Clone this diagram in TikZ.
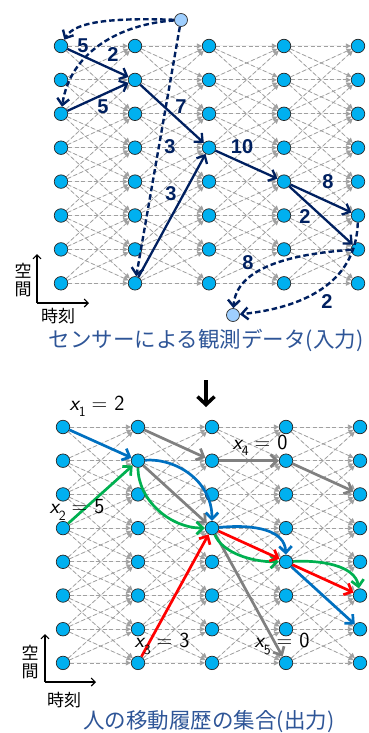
\documentclass[tikz,border=0pt]{standalone}
\usepackage{fontspec}
\usetikzlibrary{arrows.meta}
\newfontfamily\jp{Noto Sans CJK JP}
\newfontfamily\lab{Liberation Sans}
\definecolor{nodec}{HTML}{00B0F0}
\definecolor{lightc}{HTML}{9FCFFF}
\definecolor{navyc}{HTML}{002060}
\definecolor{gridc}{HTML}{A0A0A0}
\definecolor{capc}{HTML}{2E5597}
\definecolor{bluec}{HTML}{0070C0}
\definecolor{greenc}{HTML}{00B050}
\definecolor{redc}{HTML}{FF0000}
\definecolor{grayc}{HTML}{808080}
\pgfdeclarelayer{bg}
\pgfsetlayers{bg,main}
\newcommand\xlab[2]{{\fontsize{21.5}{23}\selectfont\sffamily{\slshape x}\raisebox{-0.3em}{\fontsize{14}{14}\selectfont #1}\hspace{6pt}=\hspace{7pt}#2}}
\tikzset{
  gridnode/.style={circle,draw=black!85,line width=0.7pt,fill=nodec,minimum size=13.5pt,inner sep=0pt},
  endnode/.style={circle,draw=black!80,line width=0.7pt,fill=lightc,minimum size=13pt,inner sep=0pt},
  griddash/.style={draw=gridc,line width=0.8pt,dash pattern=on 4pt off 2.5pt,-{Triangle[length=5pt,width=5pt]},fill=gridc},
  navyarrow/.style={draw=navyc,line width=2.3pt,-{Straight Barb[length=6.5pt,width=12pt]}},
  navydash/.style={navyarrow,line width=2.4pt,dash pattern=on 5.5pt off 3pt},
  numlab/.style={text=navyc,font=\lab\bfseries\fontsize{20}{21}\selectfont,inner sep=0pt},
  colarrow/.style={line width=2.7pt,-{Straight Barb[length=6.5pt,width=12.5pt]}},
  axisarrow/.style={draw=black,line width=1.1pt,-{Straight Barb[length=4pt,width=8pt]}},
  axislab/.style={font=\jp\fontsize{17}{17}\selectfont,inner sep=0pt},
  caption/.style={text=capc,font=\jp\fontsize{21.5}{24}\selectfont,inner sep=0pt},
  xl/.style={inner sep=0pt}
}
\begin{document}
\begin{tikzpicture}[x=1pt,y=-1pt]
\useasboundingbox (0,0) rectangle (369,733);
% nodes
\foreach \c/\x in {0/61,1/135,2/209,3/284,4/358}{
  \foreach \r in {0,...,7}{
    \node[gridnode] (t-\c-\r) at (\x,{46+33.9*\r}) {};
  }
}
\foreach \c/\x in {0/63,1/138,2/212,3/286,4/360}{
  \foreach \r in {0,...,7}{
    \node[gridnode] (b-\c-\r) at (\x,{427+33.7*\r}) {};
  }
}
\node[endnode] (src) at (181,20) {};
\node[endnode] (snk) at (233,315) {};
% grid edges
\begin{pgfonlayer}{bg}
\foreach \c in {0,...,3}{
  \pgfmathtruncatemacro{\cn}{\c+1}
  \foreach \r in {0,...,7}{
    \foreach \d in {-2,...,2}{
      \pgfmathtruncatemacro{\rn}{\r+\d}
      \ifnum\rn>-1 \ifnum\rn<8
        \draw[griddash] (t-\c-\r) -- (t-\cn-\rn);
        \draw[griddash] (b-\c-\r) -- (b-\cn-\rn);
      \fi\fi
    }
  }
}
\end{pgfonlayer}
% top: observations
\draw[navydash] (src) .. controls (120,18) and (75,20) .. (t-0-0);
\draw[navydash] (src) .. controls (120,24) and (70,52) .. (t-0-2);
\draw[navydash] (src) -- (t-1-7);
\draw[navyarrow] (t-0-0) -- (t-1-1);
\draw[navyarrow] (t-0-2) -- (t-1-1);
\draw[navyarrow] (t-1-1) -- (t-2-3);
\draw[navyarrow] (t-1-7) -- (t-2-3);
\draw[navyarrow] (t-2-3) -- (t-3-4);
\draw[navyarrow] (t-3-4) -- (t-4-5);
\draw[navyarrow] (t-3-4) -- (t-4-6);
\draw[navydash] (t-4-5) .. controls (356,285) and (300,308) .. (snk);
\draw[navydash] (t-4-6) .. controls (290,254) and (236,268) .. (snk);
\node[numlab] (l1) at (83,46) {5};
\node[numlab] (l2) at (113,55) {2};
\node[numlab] (l3) at (103,107) {5};
\node[numlab] (l4) at (181,107) {7};
\node[numlab] (l5) at (170,147) {3};
\node[numlab] (l6) at (242,147) {10};
\node[numlab] (l7) at (171,194) {3};
\node[numlab] (l8) at (328,182) {8};
\node[numlab] (l9) at (305,217) {2};
\node[numlab] (l10) at (248,263) {8};
\node[numlab] (l11) at (327,302) {2};
% top axes
\coordinate (ta0) at (37,303);
\coordinate (ta1) at (37,254);
\coordinate (ta2) at (89,303);
\draw[axisarrow] (ta0) -- (ta1);
\draw[axisarrow] (ta0) -- (ta2);
\node[axislab] (tk1) at (23,271) {空};
\node[axislab] (tk2) at (23,289) {間};
\node[axislab] (tj) at (58,316) {時刻};
\node[caption] (cap1) at (206,340) {センサーによる観測データ(入力)};
% down arrow
\coordinate (d0) at (206,380);
\coordinate (d1) at (206,407);
\draw[line width=3.5pt,-{Straight Barb[length=8pt,width=17pt]}] (d0) -- (d1);
% bottom: trajectories
\draw[colarrow,draw=grayc] (b-1-0) -- (b-2-1);
\draw[colarrow,draw=grayc] (b-2-1) -- (b-3-1);
\draw[colarrow,draw=grayc] (b-3-1) -- (b-4-2);
\draw[colarrow,draw=grayc] (b-1-1) -- (b-2-3);
\draw[colarrow,draw=grayc] (b-2-3) -- (b-3-7);
\draw[colarrow,draw=bluec] (b-0-0) -- (b-1-1);
\draw[colarrow,draw=bluec] (b-1-1) .. controls (175,458) and (212,480) .. (b-2-3);
\draw[colarrow,draw=bluec] (b-2-3) .. controls (255,524) and (285,530) .. (b-3-4);
\draw[colarrow,draw=bluec] (b-3-4) -- (b-4-6);
\draw[colarrow,draw=greenc] (b-0-3) -- (b-1-1);
\draw[colarrow,draw=greenc] (b-1-1) .. controls (138,500) and (170,528) .. (b-2-3);
\draw[colarrow,draw=greenc] (b-2-3) .. controls (222,552) and (250,562) .. (b-3-4);
\draw[colarrow,draw=greenc] (b-3-4) .. controls (320,560) and (355,565) .. (b-4-5);
\draw[colarrow,draw=redc] (b-1-7) -- (b-2-3);
\draw[colarrow,draw=redc] (b-2-3) -- (b-3-4);
\draw[colarrow,draw=redc] (b-3-4) -- (b-4-5);
\node[xl] (x1) at (97,406) {\xlab{1}{2}};
\node[xl] (x4) at (260,445) {\xlab{4}{0}};
\node[xl] (x2) at (77,510) {\xlab{2}{5}};
\node[xl] (x3) at (162,644) {\xlab{3}{3}};
\node[xl] (x5) at (282,644) {\xlab{5}{0}};
% bottom axes
\coordinate (ba0) at (45,682);
\coordinate (ba1) at (45,634);
\coordinate (ba2) at (96,682);
\draw[axisarrow] (ba0) -- (ba1);
\draw[axisarrow] (ba0) -- (ba2);
\node[axislab] (bk1) at (30,653) {空};
\node[axislab] (bk2) at (30,671) {間};
\node[axislab] (bj) at (64,700) {時刻};
\node[caption] (cap2) at (209,722) {人の移動履歴の集合(出力)};
\end{tikzpicture}
\end{document}
